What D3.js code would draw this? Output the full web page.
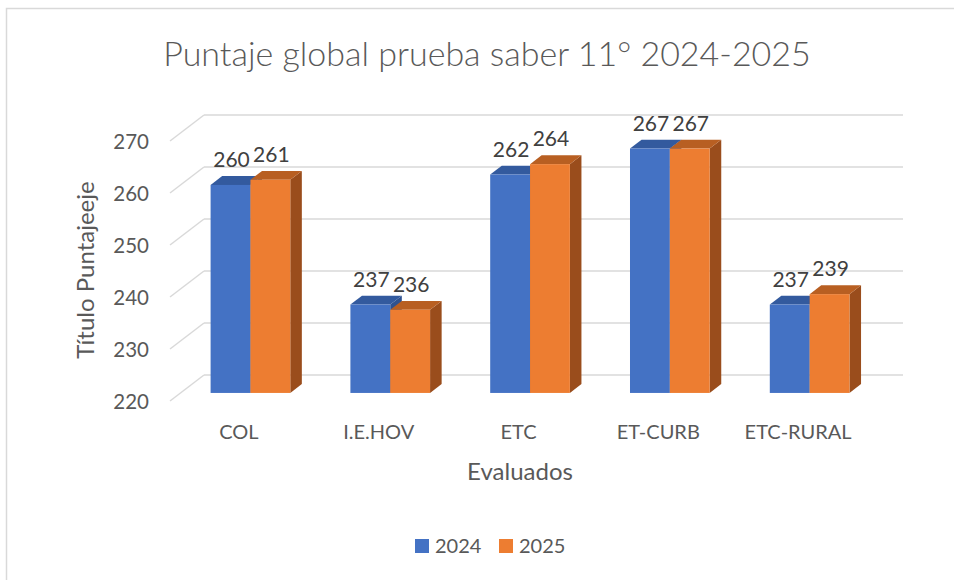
<!DOCTYPE html>
<html>
<head>
<meta charset="utf-8">
<script src="https://cdn.jsdelivr.net/npm/d3@7"></script>
<style>
  body { margin: 0; background: #fff; }
  text { font-family: Lato, "Open Sans", sans-serif; fill: #595959; }
</style>
</head>
<body>
<svg></svg>
<script>
const categories = ["COL", "I.E.HOV", "ETC", "ET-CURB", "ETC-RURAL"];
const series = ["2024", "2025"];
const values2024 = [260, 237, 262, 267, 237];
const values2025 = [261, 236, 264, 267, 239];
const yTicks = [220, 230, 240, 250, 260, 270];

const width = 954, height = 580;
const colors = {
  "2024": { front: "#4472C4", top: "#335A9E", side: "#2F5290" },
  "2025": { front: "#ED7D31", top: "#B85F22", side: "#9A4D1C" }
};

const svg = d3.select("svg").attr("width", width).attr("height", height);

// chart frame (only top and left edges fall inside the picture)
svg.append("rect")
  .attr("x", 6.5).attr("y", 8.5)
  .attr("width", width + 20).attr("height", height + 20)
  .attr("fill", "#fff").attr("stroke", "#d9d9d9").attr("stroke-width", 1.5);

// depth of the 3D box: wall is at d = 1, front floor at d = 0
const DX = 34, DY = 26;
const off = d => [DX * d, -DY * d];
const barD0 = 0.31, barD1 = 0.65;

const x = d3.scaleBand().domain(categories)
  .range([170, 869]).paddingInner(0.43).paddingOuter(0.215);
const y = d3.scaleLinear().domain([220, 270]).range([401, 141]);
const sx = d3.scaleBand().domain(series).range([0, x.bandwidth()]);

// gridlines: back wall + side diagonal
const grid = svg.append("g").attr("stroke", "#d9d9d9").attr("stroke-width", 1.5).attr("fill", "none");
yTicks.forEach(t => {
  const [wx, wy] = off(1);
  grid.append("line")
    .attr("x1", x.range()[0] + wx).attr("x2", x.range()[1] + wx)
    .attr("y1", y(t) + wy).attr("y2", y(t) + wy);
  grid.append("line")
    .attr("x1", x.range()[0]).attr("y1", y(t))
    .attr("x2", x.range()[0] + wx).attr("y2", y(t) + wy);
});

// y axis labels
const yAxis = d3.axisLeft(y).tickValues(yTicks).tickSize(0).tickPadding(0);
const gy = svg.append("g").attr("transform", "translate(149,1)").call(yAxis);
gy.select(".domain").remove();
gy.selectAll("text").style("font-family", "Lato, sans-serif").style("font-size", "20.5px").attr("fill", "#595959");

// bars
const data = categories.map((c, i) => ({ cat: c, vals: [values2024[i], values2025[i]] }));
const bars = svg.append("g");
data.forEach(d => {
  series.forEach((s, si) => {
    const v = d.vals[si];
    const x0 = x(d.cat) + sx(s), w = sx.bandwidth();
    const [ax, ay] = off(barD0), [bx, by] = off(barD1);
    const yt = y(v), yb = y(220);
    const c = colors[s];
    bars.append("polygon")
      .attr("points", [[x0 + w + ax, yt + ay], [x0 + w + bx, yt + by], [x0 + w + bx, yb + by], [x0 + w + ax, yb + ay]].join(" "))
      .attr("fill", c.side);
    bars.append("polygon")
      .attr("points", [[x0 + ax, yt + ay], [x0 + w + ax, yt + ay], [x0 + w + bx, yt + by], [x0 + bx, yt + by]].join(" "))
      .attr("fill", c.top);
    bars.append("rect")
      .attr("x", x0 + ax).attr("y", yt + ay)
      .attr("width", w).attr("height", yb - yt)
      .attr("fill", c.front);
    bars.append("text")
      .attr("x", x0 + ax + w / 2 + 1).attr("y", yt + ay - 18)
      .attr("text-anchor", "middle").style("font-size", "21px")
      .style("fill", "#404040")
      .text(v);
  });
});

// category labels
svg.append("g").selectAll("text").data(categories).join("text")
  .attr("x", d => x(d) + x.bandwidth() / 2 - 1)
  .attr("y", 439).attr("text-anchor", "middle")
  .style("font-size", "20px").text(d => d);

// titles
svg.append("text").attr("x", 487).attr("y", 66).attr("text-anchor", "middle")
  .style("font-size", "34px").style("font-weight", 300).text("Puntaje global prueba saber 11° 2024-2025");
svg.append("text").attr("x", 520).attr("y", 480).attr("text-anchor", "middle")
  .style("font-size", "24px").text("Evaluados");
svg.append("text").attr("transform", "translate(93.5,270) rotate(-90)")
  .attr("text-anchor", "middle").style("font-size", "24px").text("Título Puntajeeje");

// legend
const legend = svg.append("g").selectAll("g").data(series).join("g")
  .attr("transform", (d, i) => `translate(${415 + i * 84},539)`);
legend.append("rect").attr("width", 14).attr("height", 14).attr("fill", d => colors[d].front);
legend.append("text").attr("x", 20).attr("y", 14).style("font-size", "20px").text(d => d);
</script>
</body>
</html>
